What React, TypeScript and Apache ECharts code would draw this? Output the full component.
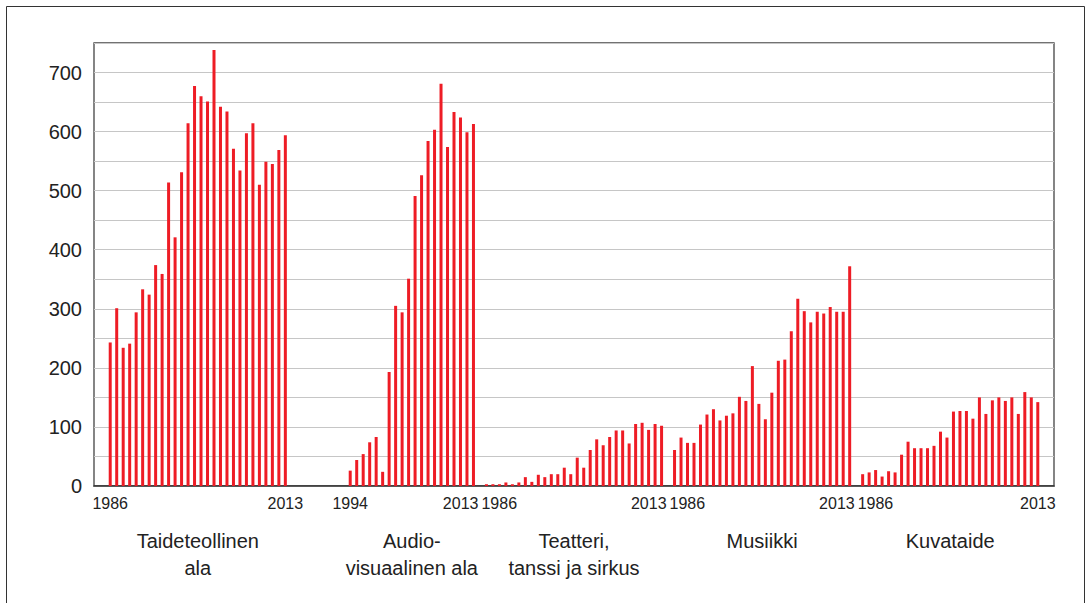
import React, { useEffect, useRef } from 'react';
import * as echarts from 'echarts';

const years = [1986, 1987, 1988, 1989, 1990, 1991, 1992, 1993, 1994, 1995, 1996, 1997, 1998, 1999, 2000, 2001, 2002, 2003, 2004, 2005, 2006, 2007, 2008, 2009, 2010, 2011, 2012, 2013];

const groupNames = ['Taideteollinen\nala', 'Audio-\nvisuaalinen ala', 'Teatteri,\ntanssi ja sirkus', 'Musiikki', 'Kuvataide'];

const taideteollinen = [243, 301, 234, 241, 294, 333, 324, 374, 359, 514, 421, 531, 614, 677, 660, 651, 738, 642, 634, 571, 534, 597, 614, 510, 549, 545, 569, 594];
const audiovisuaalinen = [null, null, null, null, null, null, null, null, 26, 44, 54, 74, 83, 24, 193, 305, 294, 351, 491, 526, 584, 603, 681, 574, 633, 624, 599, 613];
const teatteri = [3, 3, 3, 6, 3, 6, 15, 7, 19, 15, 20, 20, 31, 20, 48, 31, 61, 79, 69, 83, 94, 94, 72, 105, 107, 95, 105, 102];
const musiikki = [61, 82, 73, 73, 104, 121, 130, 111, 119, 123, 151, 144, 203, 139, 113, 158, 212, 214, 262, 317, 296, 277, 295, 292, 303, 295, 295, 372];
const kuvataide = [20, 23, 27, 16, 25, 23, 53, 75, 64, 64, 64, 68, 92, 82, 126, 127, 127, 114, 150, 122, 145, 150, 144, 150, 122, 159, 150, 142];

const yMax = 750;
const yStep = 50;
const yLabelStep = 100;

const FONT = "'Liberation Sans', Arial, Helvetica, sans-serif";

export default function App() {
  const ref = useRef<HTMLDivElement>(null);
  useEffect(() => {
    document.body.style.margin = '0';
    if (!ref.current) return;
    const chart = echarts.init(ref.current, undefined, { renderer: 'svg' });

    const groups = [taideteollinen, audiovisuaalinen, teatteri, musiikki, kuvataide];
    const cats: any[] = [];
    const vals: (number | null)[] = [];
    const labelMap: Record<string, string> = {};
    const groupEnds: { first: string; last: string }[] = [];
    cats.push({ value: 'pad-a' }, { value: 'pad-b' });
    vals.push(null, null);
    groups.forEach((g, gi) => {
      if (gi > 0) {
        cats.push({ value: 'gap-' + gi });
        vals.push(null);
      }
      let first = '';
      let last = '';
      years.forEach((y, yi) => {
        const key = gi + '-' + y;
        const v = g[yi];
        if (v !== null && first === '') first = key;
        if (v !== null) last = key;
        vals.push(v);
        cats.push({ value: key });
      });
      groupEnds.push({ first, last });
    });
    cats.push({ value: 'pad-c' }, { value: 'pad-d' });
    vals.push(null, null);

    // year tick labels at each group's first and last bar
    groupEnds.forEach((ge, gi) => {
      labelMap[ge.first] = ge.first.split('-')[1];
      labelMap[ge.last] = ge.last.split('-')[1];
      cats.forEach((c) => {
        if (c.value === ge.first && gi >= 2) c.textStyle = { align: 'left', padding: [0, 0, 0, -5] };
        if (c.value === ge.last && gi >= 1 && gi <= 3) c.textStyle = { align: 'right', padding: [0, -5, 0, 0] };
      });
    });

    chart.setOption({
      animation: false,
      grid: {
        left: 94,
        right: 37,
        top: 43,
        bottom: 117,
        show: true,
        borderColor: '#444',
        borderWidth: 1.3,
        backgroundColor: 'transparent',
      },
      xAxis: {
        type: 'category',
        data: cats,
        boundaryGap: true,
        axisLine: { show: true, lineStyle: { color: '#333', width: 1.5 } },
        axisTick: { show: false },
        splitLine: { show: false },
        axisLabel: {
          interval: 0,
          margin: 9,
          fontSize: 16,
          fontFamily: FONT,
          color: '#222',
          formatter: (v: string) => labelMap[v] ?? '',
        },
      },
      yAxis: {
        type: 'value',
        min: 0,
        max: yMax,
        interval: yStep,
        axisLine: { show: false },
        axisTick: { show: false },
        splitLine: { show: true, lineStyle: { color: '#c6c6c6', width: 1.2 } },
        axisLabel: {
          margin: 12,
          fontSize: 20,
          fontFamily: FONT,
          color: '#222',
          formatter: (v: number) => (v % yLabelStep === 0 && v < yMax ? String(v) : ''),
        },
      },
      series: [
        {
          type: 'bar',
          data: vals,
          barWidth: 3,
          itemStyle: { color: '#ee1c25' },
        },
      ],
    });

    const graphics: any[] = [
      {
        type: 'rect',
        silent: true,
        shape: { x: 6.5, y: 6.5, width: 1078, height: 602 },
        style: { fill: 'none', stroke: '#333', lineWidth: 1 },
      },
    ];
    groupEnds.forEach((ge, gi) => {
      const x1 = chart.convertToPixel({ xAxisIndex: 0 }, ge.first) as number;
      const x2 = chart.convertToPixel({ xAxisIndex: 0 }, ge.last) as number;
      graphics.push({
        type: 'text',
        silent: true,
        x: (x1 + x2) / 2,
        y: 527,
        style: {
          text: groupNames[gi],
          fontSize: 20,
          fontFamily: FONT,
          fill: '#222',
          align: 'center',
          verticalAlign: 'top',
          lineHeight: 27,
        },
      });
    });
    chart.setOption({ graphic: graphics });

    return () => chart.dispose();
  }, []);
  return <div ref={ref} style={{ width: 1091, height: 603 }} />;
}
